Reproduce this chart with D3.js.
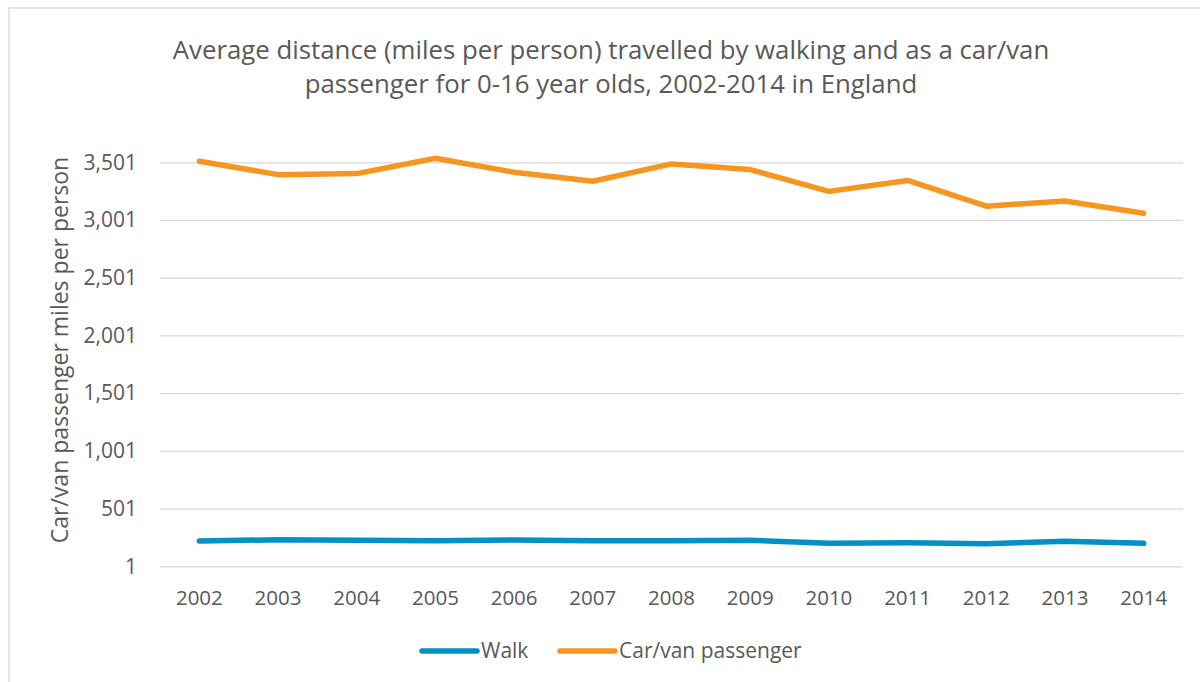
<!DOCTYPE html>
<html>
<head>
<meta charset="utf-8">
<script src="https://cdn.jsdelivr.net/npm/d3@7"></script>
<style>
  body { margin: 0; background: #fff; }
  svg { display: block; }
  text { font-family: "Open Sans", "Noto Sans", sans-serif; fill: #595959; }
</style>
</head>
<body>
<div id="chart"></div>
<script>
// data
const years = ["2002", "2003", "2004", "2005", "2006", "2007", "2008", "2009", "2010", "2011", "2012", "2013", "2014"];
const walk = [220, 231, 226, 223, 229, 223, 223, 226, 200, 206, 197, 218, 200];
const carVan = [3510, 3394, 3403, 3536, 3415, 3337, 3487, 3438, 3249, 3344, 3121, 3166, 3060];
const yTicks = [1, 501, 1001, 1501, 2001, 2501, 3001, 3501];
const titleLines = [
  "Average distance (miles per person) travelled by walking and as a car/van",
  "passenger for 0-16 year olds, 2002-2014 in England"
];

const width = 1200, height = 682;
const plot = {left: 160, right: 1183, top: 162.3, bottom: 566.3};

const walkColor = "#0091c9";
const carColor = "#f7961e";
const gridColor = "#d9d9d9";

const svg = d3.select("#chart")
  .append("svg")
  .attr("width", width)
  .attr("height", height);

// outer chart frame (only top/left visible in crop)
svg.append("rect")
  .attr("x", 9)
  .attr("y", 8)
  .attr("width", 1250)
  .attr("height", 720)
  .attr("fill", "none")
  .attr("stroke", gridColor)
  .attr("stroke-width", 1.3);

const x = d3.scaleBand()
  .domain(years)
  .range([plot.left, plot.right])
  .padding(0);

const y = d3.scaleLinear()
  .domain([1, 3501])
  .range([plot.bottom, plot.top]);

// title
svg.append("text")
  .attr("x", 611)
  .attr("y", 59)
  .attr("text-anchor", "middle")
  .style("font-size", "25.8px")
  .selectAll("tspan")
  .data(titleLines)
  .join("tspan")
  .attr("x", 611)
  .attr("dy", (d, i) => i === 0 ? 0 : 34)
  .text(d => d);

// gridlines + y labels
const yAxis = d3.axisLeft(y)
  .tickValues(yTicks)
  .tickSize(-(plot.right - plot.left))
  .tickPadding(23)
  .tickFormat(d3.format(","));

svg.append("g")
  .attr("transform", `translate(${plot.left},0)`)
  .call(yAxis)
  .call(g => g.select(".domain").remove())
  .call(g => g.selectAll(".tick line").attr("stroke", gridColor).attr("stroke-width", 1.3))
  .call(g => g.selectAll(".tick text")
    .style("font-family", "\"Open Sans\", sans-serif")
    .style("font-size", "21px")
    .attr("fill", "#595959"));

// x labels
const xAxis = d3.axisBottom(x)
  .tickSize(0)
  .tickPadding(24);

svg.append("g")
  .attr("transform", `translate(0,${plot.bottom})`)
  .call(xAxis)
  .call(g => g.select(".domain").remove())
  .call(g => g.selectAll(".tick text")
    .style("font-family", "\"Open Sans\", sans-serif")
    .style("font-size", "20.5px")
    .attr("fill", "#595959"));

// y axis title
svg.append("text")
  .attr("transform", "translate(68,350) rotate(-90)")
  .attr("text-anchor", "middle")
  .style("font-size", "23px")
  .text("Car/van passenger miles per person");

const line = d3.line()
  .x((d, i) => x(years[i]) + x.bandwidth() / 2)
  .y(d => y(d));

const series = [
  {name: "Walk", values: walk, color: walkColor},
  {name: "Car/van passenger", values: carVan, color: carColor}
];

svg.append("g")
  .selectAll("path")
  .data(series)
  .join("path")
  .attr("d", d => line(d.values))
  .attr("fill", "none")
  .attr("stroke", d => d.color)
  .attr("stroke-width", 5.5)
  .attr("stroke-linecap", "round")
  .attr("stroke-linejoin", "round");

// legend
const legendX = [422, 560];
const legend = svg.append("g")
  .selectAll("g")
  .data(series)
  .join("g")
  .attr("transform", (d, i) => `translate(${legendX[i]},651)`);

legend.append("line")
  .attr("x1", 0)
  .attr("x2", 55)
  .attr("stroke", d => d.color)
  .attr("stroke-width", 5.5)
  .attr("stroke-linecap", "round");

legend.append("text")
  .attr("x", 59)
  .attr("dy", "0.35em")
  .style("font-size", "21px")
  .text(d => d.name);
</script>
</body>
</html>
